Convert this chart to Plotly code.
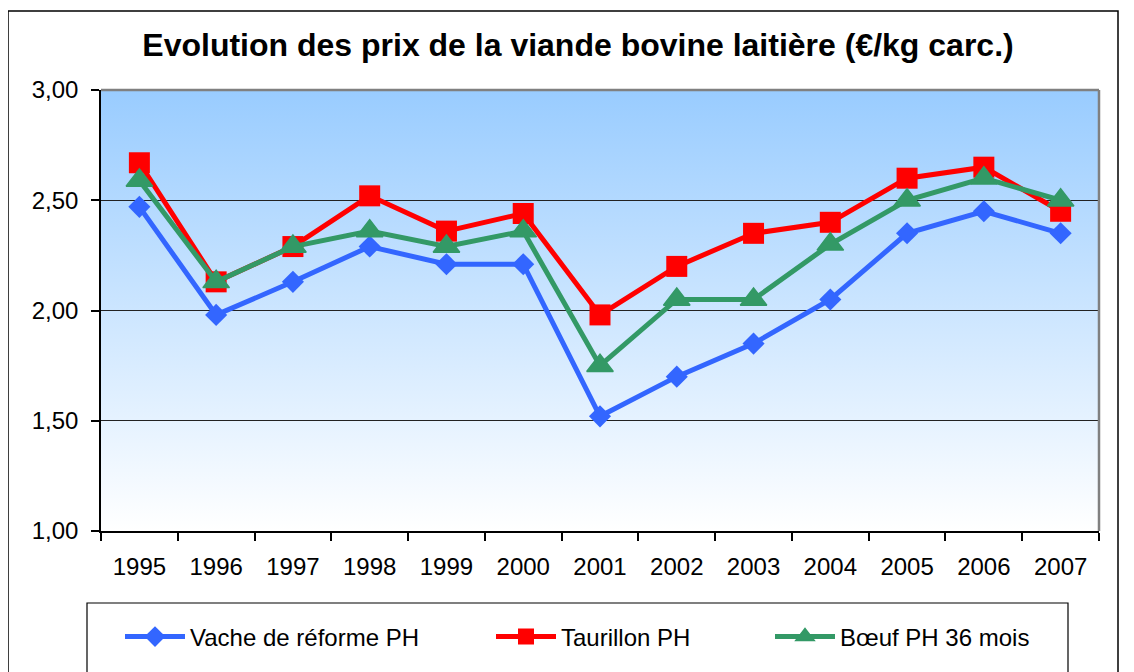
import base64
import plotly.graph_objects as go

years = ["1995", "1996", "1997", "1998", "1999", "2000", "2001",
         "2002", "2003", "2004", "2005", "2006", "2007"]
vache = [2.47, 1.98, 2.13, 2.29, 2.21, 2.21, 1.52, 1.70, 1.85, 2.05, 2.35, 2.45, 2.35]
taurillon = [2.67, 2.13, 2.29, 2.52, 2.36, 2.44, 1.98, 2.20, 2.35, 2.40, 2.60, 2.65, 2.45]
boeuf = [2.59, 2.13, 2.29, 2.36, 2.29, 2.36, 1.75, 2.05, 2.05, 2.30, 2.50, 2.60, 2.50]

names = ["Vache de réforme PH", "Taurillon PH", "Bœuf PH 36 mois"]
colors = ["#3366FF", "#FF0000", "#339966"]
symbols = ["diamond", "square", "triangle-up"]
sizes = [17, 21, 23]

FONT = "Liberation Sans, Arial, sans-serif"

fig = go.Figure()
for i, (nm, vals) in enumerate(zip(names, [vache, taurillon, boeuf])):
    fig.add_trace(go.Scatter(
        x=years, y=vals, name=nm, mode="lines+markers",
        line=dict(color=colors[i], width=5),
        marker=dict(symbol=symbols[i], size=sizes[i], color=colors[i],
                    line=dict(color=colors[i], width=1.5 if i == 2 else 0)),
        legend="legend" if i == 0 else f"legend{i+1}",
    ))

svg = ("<svg xmlns='http://www.w3.org/2000/svg' width='100' height='100' preserveAspectRatio='none'>"
       "<defs><linearGradient id='g' x1='0' y1='0' x2='0' y2='1'>"
       "<stop offset='0' stop-color='#99CCFF'/><stop offset='1' stop-color='#FFFFFF'/>"
       "</linearGradient></defs><rect width='100' height='100' fill='url(#g)'/></svg>")
uri = "data:image/svg+xml;base64," + base64.b64encode(svg.encode()).decode()

OFF = 8  # page body margin
WREF, HREF = 1134, 672
L, R, T, B = 101, 35, 90, 141
W, H = WREF - OFF, HREF - OFF
pw, ph = WREF - L - R, HREF - T - B


def px(x):
    return (x - L) / pw


def py(y):
    return (HREF - B - y) / ph


leg_common = dict(orientation="h", font=dict(family=FONT, size=24, color="black"),
                  bgcolor="rgba(0,0,0,0)", borderwidth=0, itemwidth=60,
                  xanchor="left", yanchor="middle", y=py(637))

fig.update_layout(
    width=W, height=H,
    margin=dict(l=L - OFF, r=R, t=T - OFF, b=B),
    paper_bgcolor="white", plot_bgcolor="white",
    separators=", ",
    font=dict(family=FONT, size=24, color="black"),
    title=dict(text="<b>Evolution des prix de la viande bovine laitière (€/kg carc.)</b>",
               x=(578 - OFF) / W, xanchor="center", y=1 - (45 - OFF) / H, yanchor="middle",
               font=dict(family=FONT, size=32, color="black")),
    showlegend=True,
    legend=dict(**leg_common, x=px(120)),
    legend2=dict(**leg_common, x=px(491)),
    legend3=dict(**leg_common, x=px(770)),
    images=[dict(source=uri, xref="paper", yref="paper", x=0, y=1, sizex=1, sizey=1,
                 sizing="stretch", layer="below", xanchor="left", yanchor="top")],
    shapes=[
        dict(type="rect", xref="paper", yref="paper", x0=px(8), x1=px(1118), y0=py(700), y1=py(11),
             line=dict(color="black", width=1.5), layer="below"),
        dict(type="rect", xref="paper", yref="paper", x0=px(87), x1=px(1068), y0=py(700), y1=py(603),
             line=dict(color="black", width=1.2), layer="below"),
        dict(type="line", xref="paper", yref="paper", x0=0, x1=1, y0=1, y1=1,
             line=dict(color="#808080", width=2.5)),
        dict(type="line", xref="paper", yref="paper", x0=1, x1=1, y0=0, y1=1,
             line=dict(color="#808080", width=2.5)),
    ],
)

fig.update_xaxes(
    type="category", tickson="boundaries", ticks="outside", ticklen=8, tickwidth=1.5,
    tickcolor="black", showline=True, linecolor="black", linewidth=1.5,
    showgrid=False, tickfont=dict(family=FONT, size=24, color="black"),
    ticklabelstandoff=13, range=[-0.5, 12.5],
)
fig.update_yaxes(
    range=[1, 3], dtick=0.5, tick0=1, tickformat=".2f", ticks="outside", ticklen=8,
    tickwidth=1.5, tickcolor="black", showline=True, linecolor="black", linewidth=1.5,
    showgrid=True, gridcolor="#222222", gridwidth=1, zeroline=False,
    tickfont=dict(family=FONT, size=24, color="black"), ticklabelstandoff=8,
)

fig.write_html("out.html")
